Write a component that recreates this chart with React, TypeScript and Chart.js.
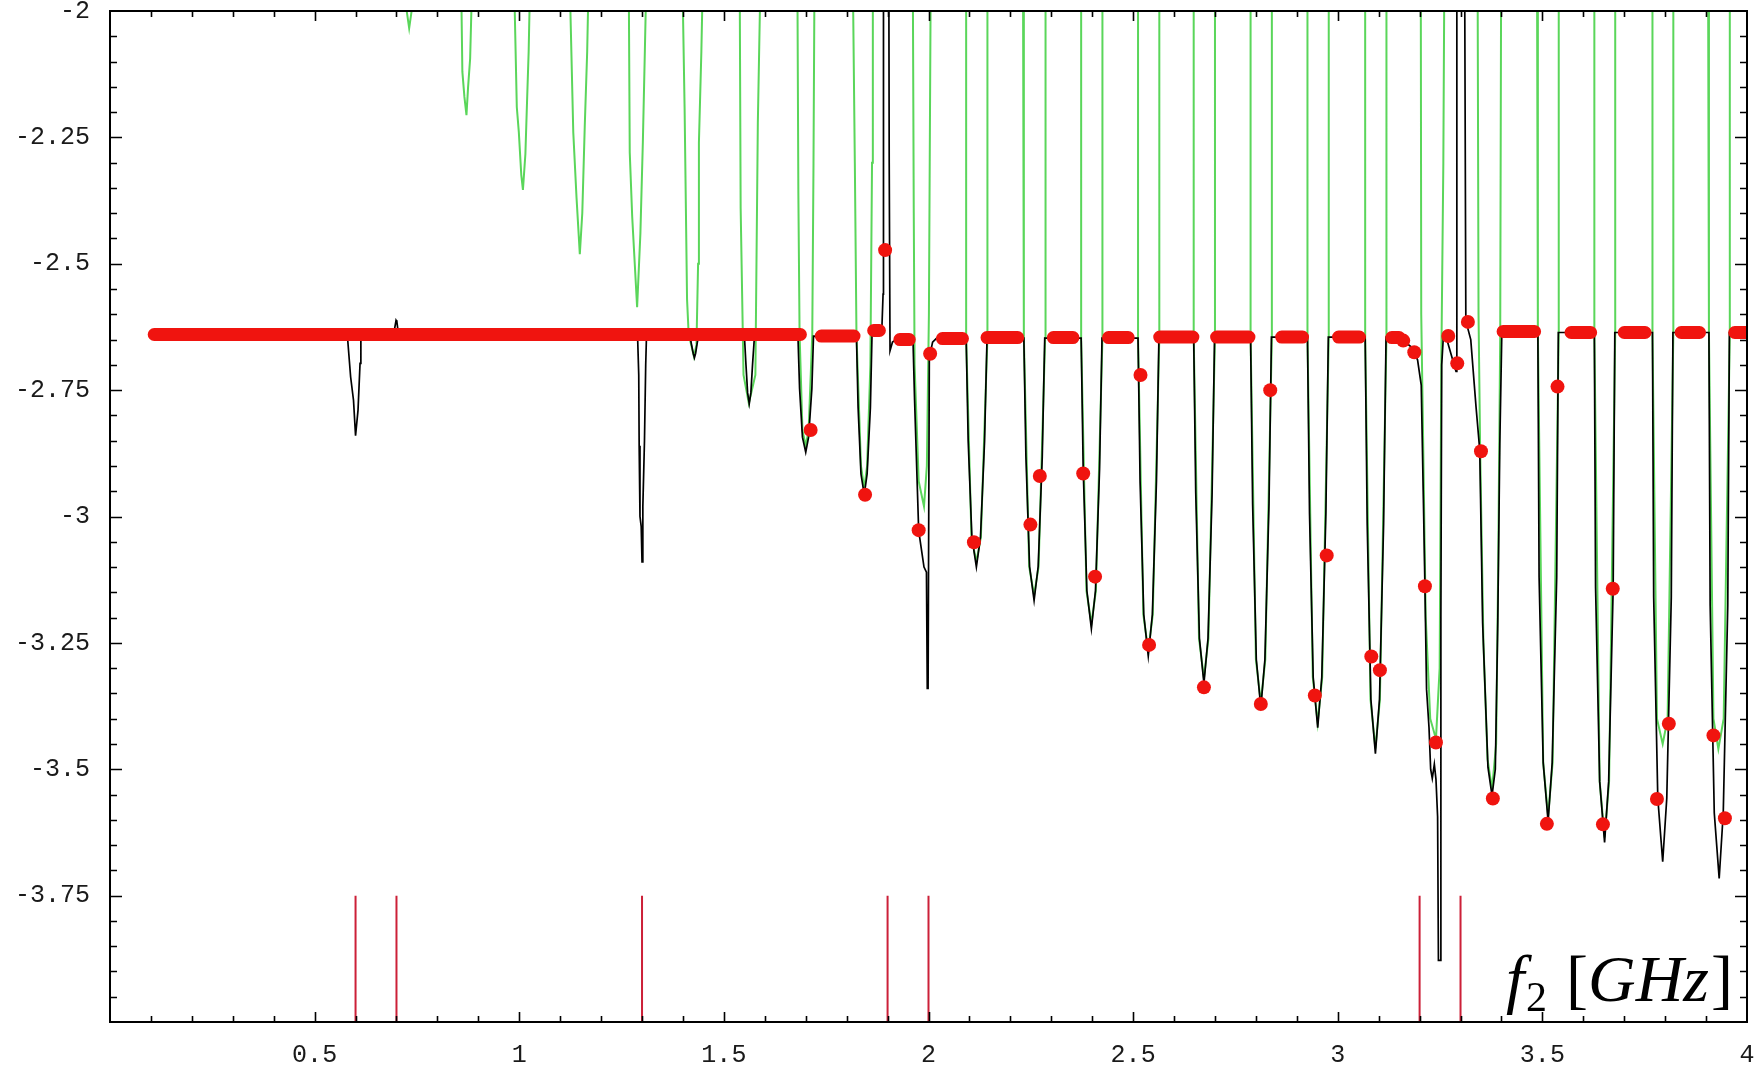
import React, { useEffect, useRef } from 'react';
import { Chart, registerables } from 'chart.js';

Chart.register(...registerables);

// ---------- axes ----------
const xRange: [number, number] = [0, 4];
const yRange: [number, number] = [-4, -2];
const xTickValues = [0.5, 1, 1.5, 2, 2.5, 3, 3.5, 4];
const xTickLabels = ['0.5', '1', '1.5', '2', '2.5', '3', '3.5', '4'];
const yTickValues = [-2, -2.25, -2.5, -2.75, -3, -3.25, -3.5, -3.75];
const yTickLabels = ['-2', '-2.25', '-2.5', '-2.75', '-3', '-3.25', '-3.5', '-3.75'];
const xMinorStep = 0.1;
const yMinorStep = 0.05;

// ---------- black curve ----------
const blackCurve: [number, number][] = [
  [0.10, -2.64],
  [0.580, -2.642], [0.588, -2.724], [0.595, -2.77], [0.600, -2.84], [0.603, -2.815], [0.606, -2.79], [0.611, -2.697], [0.613, -2.642],
  [0.693, -2.64], [0.699, -2.612], [0.701, -2.615], [0.705, -2.64],
  [1.289, -2.64], [1.292, -2.72], [1.293, -2.86], [1.295, -3.0], [1.298, -3.02], [1.300, -3.09], [1.302, -2.98], [1.306, -2.85], [1.309, -2.70], [1.311, -2.64],
  [1.417, -2.64], [1.420, -2.656], [1.425, -2.677], [1.428, -2.686], [1.431, -2.677], [1.435, -2.656], [1.439, -2.64],
  [1.550, -2.64], [1.554, -2.70], [1.558, -2.755], [1.562, -2.777], [1.566, -2.755], [1.570, -2.70], [1.575, -2.64],
  [1.681, -2.643], [1.685, -2.747], [1.692, -2.843], [1.700, -2.873], [1.707, -2.843], [1.715, -2.747], [1.719, -2.643],
  [1.824, -2.645], [1.828, -2.785], [1.835, -2.916], [1.843, -2.957], [1.850, -2.916], [1.858, -2.785], [1.862, -2.64],
  [1.870, -2.632], [1.886, -2.630], [1.889, -2.56], [1.890, -1.9], [1.903, -1.9], [1.904, -2.30], [1.906, -2.672], [1.912, -2.655], [1.925, -2.648], [1.962, -2.647],
  [1.966, -2.77], [1.976, -3.028], [1.989, -3.10], [1.995, -3.11], [1.997, -3.34], [1.999, -3.34], [2.002, -2.686], [2.010, -2.655], [2.020, -2.647],
  [2.092, -2.647], [2.097, -2.851], [2.106, -3.041], [2.117, -3.10], [2.127, -3.041], [2.137, -2.851], [2.143, -2.647],
  [2.233, -2.647], [2.238, -2.881], [2.247, -3.099], [2.258, -3.166], [2.268, -3.099], [2.278, -2.881], [2.284, -2.647],
  [2.373, -2.647], [2.378, -2.906], [2.387, -3.147], [2.398, -3.222], [2.408, -3.147], [2.418, -2.906], [2.424, -2.647],
  [2.512, -2.647], [2.517, -2.93], [2.526, -3.194], [2.537, -3.276], [2.547, -3.194], [2.557, -2.93], [2.563, -2.647],
  [2.648, -2.645], [2.653, -2.953], [2.662, -3.241], [2.673, -3.33], [2.683, -3.241], [2.693, -2.953], [2.699, -2.645],
  [2.787, -2.645], [2.792, -2.975], [2.801, -3.283], [2.812, -3.378], [2.822, -3.283], [2.832, -2.975], [2.838, -2.645],
  [2.926, -2.645], [2.931, -2.993], [2.940, -3.318], [2.951, -3.418], [2.961, -3.318], [2.971, -2.993], [2.977, -2.645],
  [3.067, -2.645], [3.072, -3.016], [3.081, -3.362], [3.092, -3.469], [3.102, -3.362], [3.112, -3.016], [3.118, -2.645],
  [3.125, -2.643], [3.160, -2.652], [3.180, -2.665], [3.195, -2.69], [3.204, -2.74], [3.210, -3.0], [3.213, -3.138], [3.217, -3.342],
  [3.223, -3.418], [3.227, -3.50], [3.231, -3.518], [3.236, -3.49], [3.240, -3.52], [3.244, -3.594], [3.246, -3.878], [3.250, -3.878],
  [3.252, -3.2], [3.254, -2.70], [3.258, -2.645], [3.265, -2.645], [3.272, -2.665], [3.289, -2.713], [3.291, -1.9], [3.310, -1.9],
  [3.313, -2.613], [3.325, -2.65], [3.338, -2.784], [3.347, -2.869], [3.354, -3.21], [3.367, -3.496], [3.377, -3.552], [3.385, -3.50],
  [3.391, -3.21], [3.396, -2.855], [3.401, -2.634],
  [3.489, -2.636], [3.492, -3.12], [3.502, -3.487], [3.514, -3.603], [3.524, -3.487], [3.535, -3.12], [3.539, -2.636],
  [3.627, -2.636], [3.630, -3.141], [3.640, -3.524], [3.652, -3.645], [3.662, -3.524], [3.673, -3.141], [3.677, -2.636],
  [3.769, -2.636], [3.772, -3.16], [3.782, -3.557], [3.794, -3.683], [3.804, -3.557], [3.815, -3.16], [3.819, -2.636],
  [3.907, -2.636], [3.910, -3.176], [3.920, -3.586], [3.932, -3.716], [3.942, -3.586], [3.953, -3.176], [3.957, -2.636],
  [4.0, -2.636],
];

// ---------- green curve ----------
const greenCurve: [number, number][] = [
  [0.10, -1.95],
  [0.722, -1.95], [0.725, -2.0], [0.731, -2.034], [0.737, -2.0], [0.740, -1.95],
  [0.857, -1.95], [0.859, -2.0], [0.861, -2.12], [0.866, -2.17], [0.871, -2.206], [0.875, -2.15], [0.880, -2.094], [0.883, -2.0], [0.885, -1.95],
  [0.987, -1.95], [0.989, -2.0], [0.994, -2.19], [0.999, -2.24], [1.005, -2.325], [1.009, -2.354], [1.015, -2.283], [1.019, -2.18], [1.023, -2.08], [1.025, -2.0], [1.027, -1.95],
  [1.123, -1.95], [1.125, -2.0], [1.132, -2.24], [1.140, -2.37], [1.148, -2.481], [1.154, -2.40], [1.160, -2.23], [1.166, -2.08], [1.168, -2.0], [1.170, -1.95],
  [1.266, -1.95], [1.268, -2.0], [1.270, -2.28], [1.276, -2.407], [1.288, -2.586], [1.296, -2.44], [1.302, -2.26], [1.307, -2.076], [1.309, -2.0], [1.311, -1.95],
  [1.398, -1.95], [1.400, -2.0], [1.404, -2.19], [1.410, -2.57], [1.414, -2.64], [1.420, -2.66], [1.427, -2.684], [1.433, -2.66], [1.437, -2.5], [1.439, -2.26], [1.445, -2.08], [1.447, -2.0], [1.449, -1.95],
  [1.537, -1.95], [1.539, -2.0], [1.541, -2.39], [1.548, -2.72], [1.561, -2.776], [1.577, -2.72], [1.583, -2.22], [1.588, -2.0], [1.590, -1.95],
  [1.678, -1.95], [1.680, -2.0], [1.682, -2.36], [1.685, -2.64], [1.692, -2.83], [1.700, -2.86], [1.707, -2.83], [1.716, -2.64], [1.719, -2.3], [1.721, -2.0], [1.723, -1.95],
  [1.814, -1.95], [1.816, -2.0], [1.820, -2.3], [1.824, -2.64], [1.835, -2.9], [1.843, -2.945], [1.850, -2.9], [1.858, -2.70], [1.862, -2.3], [1.864, -2.0], [1.866, -1.95],
  [1.960, -1.95], [1.962, -2.0], [1.964, -2.4], [1.966, -2.7], [1.976, -2.93], [1.989, -2.98], [1.996, -2.9], [2.001, -2.6], [2.005, -2.0], [2.007, -1.95],
  [2.090, -1.95], [2.092, -2.0], [2.092, -2.647], [2.105, -3.041], [2.117, -3.09], [2.128, -3.041], [2.144, -2.647], [2.144, -2.0], [2.146, -1.95],
  [2.231, -1.95], [2.233, -2.0], [2.233, -2.647], [2.246, -3.099], [2.258, -3.156], [2.269, -3.099], [2.285, -2.647], [2.285, -2.0], [2.287, -1.95],
  [2.371, -1.95], [2.373, -2.0], [2.373, -2.647], [2.386, -3.147], [2.398, -3.212], [2.409, -3.147], [2.425, -2.647], [2.425, -2.0], [2.427, -1.95],
  [2.510, -1.95], [2.512, -2.0], [2.512, -2.647], [2.525, -3.194], [2.537, -3.266], [2.548, -3.194], [2.564, -2.647], [2.564, -2.0], [2.566, -1.95],
  [2.646, -1.95], [2.648, -2.0], [2.648, -2.645], [2.661, -3.241], [2.673, -3.32], [2.684, -3.241], [2.700, -2.645], [2.700, -2.0], [2.702, -1.95],
  [2.785, -1.95], [2.787, -2.0], [2.787, -2.645], [2.800, -3.283], [2.812, -3.368], [2.823, -3.283], [2.839, -2.645], [2.839, -2.0], [2.841, -1.95],
  [2.924, -1.95], [2.926, -2.0], [2.926, -2.645], [2.939, -3.318], [2.951, -3.408], [2.962, -3.318], [2.978, -2.645], [2.978, -2.0], [2.980, -1.95],
  [3.065, -1.95], [3.067, -2.0], [3.067, -2.645], [3.080, -3.362], [3.092, -3.459], [3.103, -3.362], [3.119, -2.645], [3.119, -2.0], [3.121, -1.95],
  [3.201, -1.95], [3.203, -2.0], [3.204, -2.6], [3.207, -2.76], [3.215, -3.2], [3.226, -3.40], [3.240, -3.44], [3.249, -3.3], [3.253, -2.7], [3.258, -2.3], [3.260, -2.0], [3.262, -1.95],
  [3.340, -1.95], [3.342, -2.0], [3.344, -2.6], [3.348, -2.87], [3.356, -3.25], [3.366, -3.48], [3.377, -3.54], [3.387, -3.45], [3.392, -3.1], [3.397, -2.64], [3.399, -2.0], [3.401, -1.95],
  [3.487, -1.95], [3.489, -2.0], [3.489, -2.636], [3.502, -3.487], [3.514, -3.593], [3.525, -3.487], [3.540, -2.636], [3.540, -2.0], [3.542, -1.95],
  [3.625, -1.95], [3.627, -2.0], [3.627, -2.636], [3.640, -3.524], [3.652, -3.635], [3.663, -3.524], [3.678, -2.636], [3.678, -2.0], [3.680, -1.95],
  [3.767, -1.95], [3.769, -2.0], [3.769, -2.636], [3.780, -3.40], [3.794, -3.45], [3.806, -3.40], [3.820, -2.636], [3.820, -2.0], [3.822, -1.95],
  [3.905, -1.95], [3.907, -2.0], [3.907, -2.636], [3.918, -3.40], [3.930, -3.46], [3.943, -3.40], [3.958, -2.636], [3.958, -2.0], [3.960, -1.95],
  [4.0, -1.95],
];

// ---------- red measured points ----------
// dense runs of points along the baseline: [xStart, xEnd, y]
const redBandSegments: [number, number, number][] = [
  [0.108, 1.687, -2.64],
  [1.738, 1.818, -2.643],
  [1.866, 1.880, -2.632],
  [1.930, 1.953, -2.650],
  [2.034, 2.083, -2.648],
  [2.143, 2.218, -2.646],
  [2.305, 2.353, -2.646],
  [2.440, 2.488, -2.646],
  [2.565, 2.646, -2.645],
  [2.704, 2.783, -2.645],
  [2.863, 2.914, -2.645],
  [3.002, 3.053, -2.645],
  [3.132, 3.150, -2.646],
  [3.404, 3.481, -2.634],
  [3.570, 3.618, -2.636],
  [3.700, 3.751, -2.636],
  [3.839, 3.884, -2.636],
  [3.970, 4.0, -2.636],
];

const redDots: [number, number][] = [
  [1.712, -2.829], [1.845, -2.957], [1.894, -2.473], [1.976, -3.027], [2.004, -2.678],
  [2.111, -3.051], [2.249, -3.016], [2.272, -2.92], [2.378, -2.915], [2.407, -3.119],
  [2.518, -2.72], [2.539, -3.254], [2.673, -3.338], [2.812, -3.371], [2.835, -2.75],
  [2.944, -3.354], [2.973, -3.077], [3.082, -3.277], [3.103, -3.304], [3.160, -2.652],
  [3.187, -2.675], [3.213, -3.138], [3.240, -3.447], [3.270, -2.643], [3.292, -2.697],
  [3.318, -2.615], [3.350, -2.871], [3.379, -3.558], [3.511, -3.608], [3.537, -2.743],
  [3.648, -3.609], [3.672, -3.143], [3.780, -3.559], [3.809, -3.41], [3.918, -3.433],
  [3.946, -3.597],
];

// ---------- red reference markers ----------
const markerLineX = [0.6, 0.7, 1.3, 1.9, 2.0, 3.2, 3.3];
const markerLineSpan: [number, number] = [-4, -3.75];

const W = 1764;
const H = 1066;
const tickFont = '"Liberation Mono", "Courier New", "DejaVu Sans Mono", monospace';
const serif = '"Liberation Serif", "Times New Roman", serif';

function toPts(arr: [number, number][]) {
  return arr.map(([x, y]) => ({ x, y }));
}

function labelFor(values: number[], labels: string[], v: number) {
  const i = values.findIndex((t) => Math.abs(t - v) < 1e-6);
  return i >= 0 ? labels[i] : '';
}

const framePlugin = {
  id: 'mmaFrame',
  afterDatasetsDraw(chart: any) {
    const { ctx, chartArea: a, scales } = chart;
    const xs = scales.x;
    const ys = scales.y;
    ctx.save();
    ctx.strokeStyle = '#000';
    ctx.lineWidth = 1.6;
    ctx.beginPath();
    const nx = Math.round((xRange[1] - xRange[0]) / xMinorStep);
    for (let i = 1; i < nx; i++) {
      const v = xRange[0] + i * xMinorStep;
      const px = Math.round(xs.getPixelForValue(v)) + 0.5;
      const len = i % 5 === 0 ? 10 : 6;
      ctx.moveTo(px, a.bottom);
      ctx.lineTo(px, a.bottom - len);
      ctx.moveTo(px, a.top);
      ctx.lineTo(px, a.top + len);
    }
    const ny = Math.round((yRange[1] - yRange[0]) / yMinorStep);
    for (let i = 1; i < ny; i++) {
      const v = yRange[1] - i * yMinorStep;
      const py = Math.round(ys.getPixelForValue(v)) + 0.5;
      const len = i % 5 === 0 ? 12 : 7;
      ctx.moveTo(a.left, py);
      ctx.lineTo(a.left + len, py);
      ctx.moveTo(a.right, py);
      ctx.lineTo(a.right - len, py);
    }
    ctx.stroke();
    ctx.lineWidth = 2;
    ctx.strokeRect(a.left, a.top, a.right - a.left, a.bottom - a.top);

    // axis label f2 [GHz]
    ctx.fillStyle = '#000';
    ctx.textAlign = 'left';
    ctx.textBaseline = 'alphabetic';
    const base = 1001;
    let x = 1506;
    ctx.font = `italic 66px ${serif}`;
    ctx.fillText('f', x, base);
    x = 1526;
    ctx.font = `42px ${serif}`;
    ctx.fillText('2', x, base + 10);
    x = 1566;
    ctx.font = `66px ${serif}`;
    ctx.fillText('[', x, base);
    x += ctx.measureText('[').width;
    ctx.font = `italic 66px ${serif}`;
    ctx.fillText('GHz', x, base);
    x += ctx.measureText('GHz').width + 2;
    ctx.font = `66px ${serif}`;
    ctx.fillText(']', x, base);
    ctx.restore();
  },
};

export default function App() {
  const ref = useRef<HTMLCanvasElement>(null);

  useEffect(() => {
    document.body.style.margin = '0';
    const canvas = ref.current;
    if (!canvas) return;

    const bandData: { x: number; y: number | null }[] = [];
    for (const [x0, x1, y] of redBandSegments) {
      bandData.push({ x: x0, y }, { x: x1, y }, { x: x1, y: null });
    }
    const markerData: { x: number; y: number | null }[] = [];
    for (const x of markerLineX) {
      markerData.push({ x, y: markerLineSpan[0] }, { x, y: markerLineSpan[1] }, { x, y: null });
    }

    const red = '#f0140f';

    const chart = new Chart(canvas, {
      type: 'scatter',
      data: {
        datasets: [
          {
            label: 'points',
            data: toPts(redDots),
            showLine: false,
            pointRadius: 7,
            pointHoverRadius: 7,
            pointBackgroundColor: red,
            pointBorderWidth: 0,
            clip: 0,
            order: 1,
          } as any,
          {
            label: 'baseline points',
            data: bandData,
            showLine: true,
            spanGaps: false,
            borderColor: red,
            borderWidth: 13,
            borderCapStyle: 'round',
            pointRadius: 0,
            pointHoverRadius: 0,
            clip: 0,
            order: 2,
          } as any,
          {
            label: 'markers',
            data: markerData,
            showLine: true,
            spanGaps: false,
            borderColor: '#cc2038',
            borderWidth: 2,
            pointRadius: 0,
            pointHoverRadius: 0,
            clip: 0,
            order: 3,
          } as any,
          {
            label: 'black',
            data: toPts(blackCurve),
            showLine: true,
            borderColor: '#000000',
            borderWidth: 1.7,
            pointRadius: 0,
            pointHoverRadius: 0,
            tension: 0,
            clip: 0,
            order: 4,
          } as any,
          {
            label: 'green',
            data: toPts(greenCurve),
            showLine: true,
            borderColor: '#5ad65a',
            borderWidth: 2,
            pointRadius: 0,
            pointHoverRadius: 0,
            tension: 0,
            clip: 0,
            order: 5,
          } as any,
        ],
      },
      options: {
        animation: false,
        responsive: false,
        devicePixelRatio: 1,
        events: [],
        layout: { padding: { top: 11, right: 17, bottom: 0, left: 0 } },
        plugins: {
          legend: { display: false },
          tooltip: { enabled: false },
        },
        scales: {
          x: {
            type: 'linear',
            min: xRange[0],
            max: xRange[1],
            grid: { display: false, drawTicks: false },
            border: { display: false },
            afterBuildTicks: (s: any) => {
              s.ticks = xTickValues.map((value) => ({ value }));
            },
            afterFit: (s: any) => {
              s.height = 44;
              s.paddingLeft = 0;
              s.paddingRight = 0;
            },
            ticks: {
              autoSkip: false,
              maxRotation: 0,
              minRotation: 0,
              padding: 18,
              color: '#1a1a1a',
              font: { family: tickFont, size: 25 },
              callback: (v: any) => labelFor(xTickValues, xTickLabels, Number(v)),
            },
          },
          y: {
            type: 'linear',
            min: yRange[0],
            max: yRange[1],
            grid: { display: false, drawTicks: false },
            border: { display: false },
            afterBuildTicks: (s: any) => {
              s.ticks = yTickValues.map((value) => ({ value }));
            },
            afterFit: (s: any) => {
              s.width = 110;
              s.paddingTop = 0;
              s.paddingBottom = 0;
            },
            ticks: {
              autoSkip: false,
              padding: 20,
              color: '#1a1a1a',
              font: { family: tickFont, size: 25 },
              callback: (v: any) => labelFor(yTickValues, yTickLabels, Number(v)),
            },
          },
        },
      } as any,
      plugins: [framePlugin],
    });

    return () => chart.destroy();
  }, []);

  return (
    <div style={{ width: W, height: H, background: '#fff' }}>
      <canvas ref={ref} width={W} height={H} style={{ display: 'block' }} />
    </div>
  );
}
